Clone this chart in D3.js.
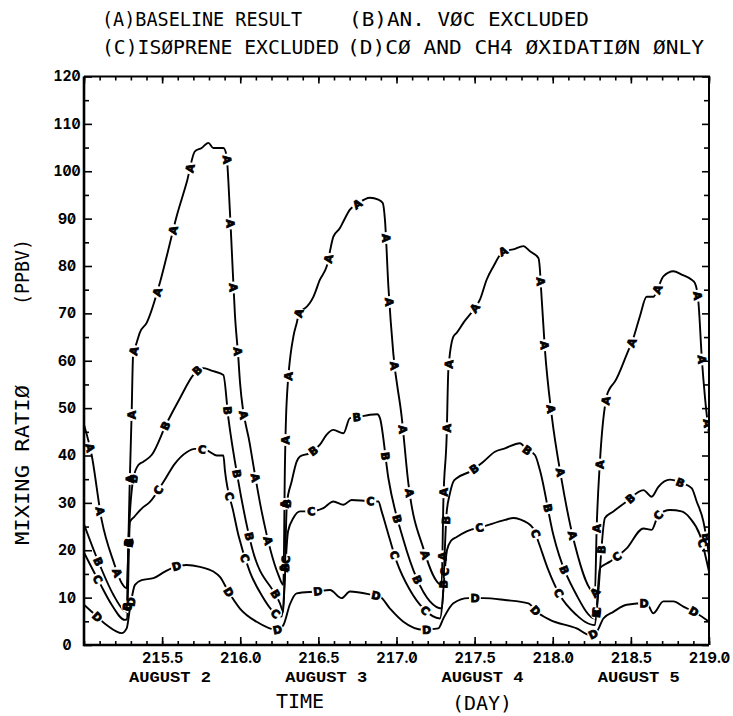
<!DOCTYPE html>
<html>
<head>
<meta charset="utf-8">
<script src="https://cdn.jsdelivr.net/npm/d3@7"></script>
<style>
  body { margin: 0; background: #fff; }
  svg { display: block; }
  .num { font-family: Inter, 'DejaVu Sans', sans-serif; font-weight: 700; font-feature-settings: "zero" 1, "tnum" 1; }
</style>
</head>
<body>
<svg id="chart" width="733" height="716"></svg>
<script>
// ---- data: [day of year, mixing ratio (ppbv)] ----
const baselineRun = [
  [215.000,46.5],[215.049,40.1],[215.113,26.4],[215.190,17.5],[215.241,13.1],[215.273,12.0],
  [215.294,35.9],[215.305,49.0],[215.314,61.0],[215.337,63.8],[215.358,66.0],[215.401,68.0],
  [215.486,76.5],[215.529,82.0],[215.593,90.5],[215.657,97.6],[215.710,104.2],[215.753,104.9],
  [215.796,106.0],[215.828,104.9],[215.892,104.9],[215.913,103.2],[215.924,97.9],[215.945,83.9],
  [215.966,69.7],[215.988,60.5],[215.998,55.6],[216.062,42.3],[216.137,28.2],[216.244,14.8],
  [216.276,12.7],[216.286,38.0],[216.297,51.3],[216.340,65.1],[216.361,67.9],[216.382,70.7],
  [216.414,71.1],[216.468,73.5],[216.510,77.1],[216.553,79.9],[216.596,86.2],[216.638,88.0],
  [216.660,89.4],[216.702,91.9],[216.745,93.0],[216.830,94.4],[216.884,94.0],[216.912,93.3],
  [216.926,89.8],[216.948,75.7],[216.980,61.4],[217.033,48.2],[217.076,34.1],[217.172,20.4],
  [217.289,12.7],[217.300,30.3],[217.321,44.0],[217.332,58.1],[217.364,65.1],[217.385,65.9],
  [217.428,68.0],[217.492,70.7],[217.534,72.9],[217.577,77.1],[217.620,79.9],[217.684,83.1],
  [217.748,83.5],[217.812,84.2],[217.854,83.1],[217.908,81.7],[217.918,79.2],[217.923,76.4],
  [217.950,62.3],[217.993,48.5],[218.057,34.8],[218.142,21.1],[218.270,11.0],[218.281,24.6],
  [218.302,38.7],[218.345,52.5],[218.366,54.2],[218.398,55.6],[218.473,61.3],[218.516,64.8],
  [218.558,69.4],[218.601,73.5],[218.644,73.5],[218.676,75.6],[218.708,77.8],[218.772,78.9],
  [218.825,78.2],[218.889,77.1],[218.910,76.4],[218.932,72.5],[218.955,60.0],[218.975,52.0],
  [219.000,44.5]
];
const noAnthroVoc = [
  [215.000,25.5],[215.092,17.6],[215.188,10.6],[215.252,7.4],[215.273,7.0],[215.284,21.1],
  [215.316,35.2],[215.348,38.0],[215.380,38.7],[215.433,40.1],[215.529,46.8],[215.614,52.1],
  [215.700,57.0],[215.753,58.5],[215.828,57.8],[215.892,57.0],[215.924,47.9],[215.988,34.5],
  [216.073,20.8],[216.254,8.8],[216.276,7.0],[216.299,30.0],[216.329,34.5],[216.361,38.7],
  [216.382,39.8],[216.446,40.5],[216.510,42.3],[216.553,44.4],[216.596,45.4],[216.660,44.7],
  [216.702,47.9],[216.766,48.2],[216.830,48.6],[216.877,48.7],[216.894,47.9],[216.948,35.2],
  [217.044,22.2],[217.214,9.2],[217.289,7.7],[217.321,28.0],[217.342,32.0],[217.364,34.5],
  [217.385,35.2],[217.470,36.6],[217.556,38.7],[217.630,40.8],[217.694,41.5],[217.790,42.6],
  [217.833,41.2],[217.886,40.1],[217.918,36.9],[218.004,23.2],[218.153,10.5],[218.270,5.6],
  [218.334,26.8],[218.388,28.2],[218.473,30.3],[218.580,32.7],[218.633,31.3],[218.676,33.4],
  [218.750,34.9],[218.825,34.2],[218.889,33.1],[218.921,30.3],[218.964,26.1],[219.000,19.0]
];
const noIsoprene = [
  [215.000,19.5],[215.102,13.0],[215.177,8.5],[215.262,5.3],[215.275,5.5],[215.294,26.0],
  [215.320,27.0],[215.369,28.8],[215.422,30.2],[215.508,34.4],[215.582,38.3],[215.657,40.7],
  [215.710,41.4],[215.785,41.1],[215.849,40.0],[215.892,40.0],[215.902,36.8],[215.956,28.1],
  [215.988,23.2],[216.062,15.4],[216.137,10.5],[216.212,7.0],[216.265,6.0],[216.306,24.0],
  [216.340,26.8],[216.382,28.2],[216.446,28.2],[216.532,28.9],[216.596,30.3],[216.660,29.6],
  [216.713,30.6],[216.809,30.4],[216.884,30.3],[216.905,28.2],[216.937,24.6],[217.001,17.6],
  [217.086,11.6],[217.172,7.7],[217.278,5.6],[217.323,20.0],[217.349,22.0],[217.385,22.8],
  [217.449,24.0],[217.556,25.0],[217.694,26.4],[217.748,26.8],[217.790,26.5],[217.876,24.6],
  [217.908,21.8],[217.972,15.8],[218.046,10.5],[218.153,6.3],[218.206,4.9],[218.270,4.2],
  [218.302,16.2],[218.366,17.6],[218.473,20.4],[218.580,24.6],[218.633,24.3],[218.676,27.4],
  [218.750,28.5],[218.825,28.2],[218.878,26.8],[218.942,23.2],[219.000,15.5]
];
const coCh4Only = [
  [215.000,8.5],[215.060,6.7],[215.145,4.2],[215.241,2.5],[215.273,3.5],[215.294,7.7],
  [215.326,12.7],[215.369,13.7],[215.444,14.1],[215.518,15.5],[215.582,16.5],[215.657,16.9],
  [215.742,16.5],[215.828,15.5],[215.870,14.4],[215.924,11.3],[215.998,7.7],[216.105,4.9],
  [216.233,3.2],[216.276,4.2],[216.318,8.6],[216.361,10.9],[216.489,11.3],[216.574,11.6],
  [216.649,9.9],[216.702,11.3],[216.841,10.6],[216.894,10.2],[216.958,7.7],[217.044,4.9],
  [217.172,3.2],[217.268,3.5],[217.300,5.6],[217.364,8.8],[217.460,9.9],[217.556,9.9],
  [217.694,9.5],[217.844,8.8],[217.897,7.0],[217.982,5.3],[218.153,3.5],[218.238,2.1],
  [218.281,2.8],[218.324,5.6],[218.388,7.0],[218.473,8.5],[218.601,8.8],[218.644,6.7],
  [218.708,9.2],[218.772,9.2],[218.836,8.1],[218.921,6.7],[219.000,4.9]
];

// curve keys (drawn along each line) and legend text
const curveKeys = ["A", "B", "C", "D"];
const legendRow1 = ["(A)BASELINE RESULT", "(B)AN. VØC EXCLUDED"];
const legendRow2 = ["(C)ISØPRENE EXCLUDED", "(D)CØ AND CH4 ØXIDATIØN ØNLY"];

// axis ticks and labels
const dayLabelTicks = [215.5, 216.0, 216.5, 217.0, 217.5, 218.0, 218.5, 219.0];
const dayMinorTicks = d3.range(0, 41).map(i => 215 + i / 10);
const dayHalfTicks = [215.0, 215.5, 216.0, 216.5, 217.0, 217.5, 218.0, 218.5, 219.0];
const mixMajorTicks = [0, 10, 20, 30, 40, 50, 60, 70, 80, 90, 100, 110, 120];
const mixMinorTicks = [5, 15, 25, 35, 45, 55, 65, 75, 85, 95, 105, 115];
const dateNames = ["AUGUST 2", "AUGUST 3", "AUGUST 4", "AUGUST 5"];
const dateCentres = [215.55, 216.55, 217.55, 218.55];

// ---- layout ----
const svg = d3.select("#chart");
const plotLeft = 84, plotRight = 709, plotTop = 76.5, plotBottom = 645;
const x = d3.scaleLinear().domain([215, 219]).range([plotLeft, plotRight]);
const y = d3.scaleLinear().domain([0, 120]).range([plotBottom, plotTop]);

const monoFont = "'DejaVu Sans Mono', monospace";
const defs = svg.append("defs");
defs.append("clipPath").attr("id", "plot-clip")
  .append("rect").attr("x", plotLeft).attr("y", plotTop)
  .attr("width", plotRight - plotLeft).attr("height", plotBottom - plotTop);

// ---- axes (ticks point inward) ----
function styleAxis(g) {
  g.select(".domain").remove();
  g.selectAll(".tick line").attr("stroke", "#000").attr("stroke-width", 1.6);
}
svg.append("g").attr("transform", `translate(0,${plotBottom})`)
  .call(d3.axisBottom(x).tickValues(dayMinorTicks).tickSize(-4).tickFormat(""))
  .call(styleAxis);
svg.append("g").attr("transform", `translate(0,${plotBottom})`)
  .call(d3.axisBottom(x).tickValues(dayLabelTicks).tickSize(-8).tickPadding(8).tickFormat(d3.format(".1f")))
  .call(styleAxis)
  .call(g => g.selectAll("text").attr("class", "num").attr("font-family", null)
    .attr("font-size", 14.5).attr("fill", "#000"));
svg.append("g").attr("transform", `translate(0,${plotTop})`)
  .call(d3.axisTop(x).tickValues(dayMinorTicks).tickSize(-4).tickFormat(""))
  .call(styleAxis);
svg.append("g").attr("transform", `translate(0,${plotTop})`)
  .call(d3.axisTop(x).tickValues(dayHalfTicks).tickSize(-7).tickFormat(""))
  .call(styleAxis);

svg.append("g").attr("transform", `translate(${plotLeft},0)`)
  .call(d3.axisLeft(y).tickValues(mixMinorTicks).tickSize(-5).tickFormat(""))
  .call(styleAxis);
svg.append("g").attr("transform", `translate(${plotLeft},0)`)
  .call(d3.axisLeft(y).tickValues(mixMajorTicks).tickSize(-8).tickFormat(d3.format("d")))
  .call(styleAxis)
  .call(g => g.selectAll("text").attr("x", -17).attr("text-anchor", "middle")
    .attr("class", "num").attr("font-family", null).attr("font-size", 14).attr("fill", "#000"));
svg.append("g").attr("transform", `translate(${plotRight},0)`)
  .call(d3.axisRight(y).tickValues(mixMinorTicks).tickSize(-5).tickFormat(""))
  .call(styleAxis);
svg.append("g").attr("transform", `translate(${plotRight},0)`)
  .call(d3.axisRight(y).tickValues(mixMajorTicks).tickSize(-7).tickFormat(""))
  .call(styleAxis);

// frame
svg.append("path")
  .attr("d", `M${plotLeft},${plotTop}H${plotRight}V${plotBottom}`)
  .attr("fill", "none").attr("stroke", "#000").attr("stroke-width", 2);
svg.append("path")
  .attr("d", `M${plotLeft},${plotTop}V${plotBottom}H${plotRight}`)
  .attr("fill", "none").attr("stroke", "#000").attr("stroke-width", 2.6);

// ---- curves with their key letters ----
const line = d3.line()
  .x(d => x(d[0])).y(d => y(d[1]))
  .curve(d3.curveMonotoneX);

const runs = [
  { key: curveKeys[0], data: baselineRun, start: 24 },
  { key: curveKeys[1], data: noAnthroVoc, start: 40 },
  { key: curveKeys[2], data: noIsoprene, start: 30 },
  { key: curveKeys[3], data: coCh4Only, start: 18 }
];
const labelGap = 64;

const plot = svg.append("g").attr("clip-path", "url(#plot-clip)");
runs.forEach((run, i) => {
  // measure the path first to find where the letters sit
  const probe = svg.append("path").attr("d", line(run.data)).attr("fill", "none");
  const node = probe.node();
  const total = node.getTotalLength();
  const spots = [];
  for (let l = run.start; l < total - 4; l += labelGap) {
    const p = node.getPointAtLength(l);
    const a = node.getPointAtLength(Math.max(0, l - 3));
    const b = node.getPointAtLength(Math.min(total, l + 3));
    spots.push({ x: p.x, y: p.y, angle: Math.atan2(b.y - a.y, b.x - a.x) * 180 / Math.PI });
  }
  probe.remove();

  const mask = defs.append("mask").attr("id", `gap-${i}`).attr("maskUnits", "userSpaceOnUse")
    .attr("x", 0).attr("y", 0).attr("width", 733).attr("height", 716);
  mask.append("rect").attr("width", 733).attr("height", 716).attr("fill", "#fff");
  mask.selectAll("circle").data(spots).join("circle")
    .attr("cx", d => d.x).attr("cy", d => d.y).attr("r", 6).attr("fill", "#000");

  plot.append("path")
    .attr("d", line(run.data))
    .attr("fill", "none")
    .attr("stroke", "#000")
    .attr("stroke-width", 1.9)
    .attr("stroke-linejoin", "round")
    .attr("mask", `url(#gap-${i})`);

  plot.selectAll(null).data(spots).join("text")
    .attr("transform", d => `translate(${d.x},${d.y}) rotate(${d.angle})`)
    .attr("text-anchor", "middle")
    .attr("dy", "0.36em")
    .attr("font-family", "'DejaVu Sans', sans-serif")
    .attr("font-weight", "bold")
    .attr("font-size", 11)
    .attr("stroke", "#000").attr("stroke-width", 0.8)
    .attr("fill", "#000")
    .text(run.key);
});

// ---- titles ----
const legend = svg.append("g").attr("font-family", monoFont).attr("font-size", 20).attr("fill", "#000");
legend.append("text").attr("x", 102).attr("y", 26).attr("textLength", 200).attr("lengthAdjust", "spacingAndGlyphs").text(legendRow1[0]);
legend.append("text").attr("x", 349).attr("y", 26).attr("textLength", 240).attr("lengthAdjust", "spacingAndGlyphs").text(legendRow1[1]);
legend.append("text").attr("x", 102).attr("y", 54).attr("textLength", 237).attr("lengthAdjust", "spacingAndGlyphs").text(legendRow2[0]);
legend.append("text").attr("x", 347).attr("y", 54).attr("textLength", 357).attr("lengthAdjust", "spacingAndGlyphs").text(legendRow2[1]);

svg.append("g").selectAll("text").data(dateNames).join("text")
  .attr("x", (d, i) => x(dateCentres[i])).attr("y", 682)
  .attr("text-anchor", "middle")
  .attr("font-family", "'Liberation Mono', monospace").attr("font-weight", "bold").attr("font-size", 14)
  .attr("textLength", 82).attr("lengthAdjust", "spacingAndGlyphs")
  .text(d => d);

const axisTitle = svg.append("g").attr("font-family", monoFont).attr("font-size", 20).attr("fill", "#000");
axisTitle.append("text").attr("x", 300).attr("y", 708).attr("text-anchor", "middle").text("TIME");
axisTitle.append("text").attr("x", 482).attr("y", 710).attr("text-anchor", "middle").text("(DAY)");
axisTitle.append("text").attr("transform", "translate(29,465) rotate(-90)").attr("text-anchor", "middle")
  .attr("textLength", 160).attr("lengthAdjust", "spacingAndGlyphs").text("MIXING RATIØ");
axisTitle.append("text").attr("transform", "translate(29,272) rotate(-90)").attr("text-anchor", "middle")
  .attr("textLength", 66).attr("lengthAdjust", "spacingAndGlyphs").text("(PPBV)");
</script>
</body>
</html>
